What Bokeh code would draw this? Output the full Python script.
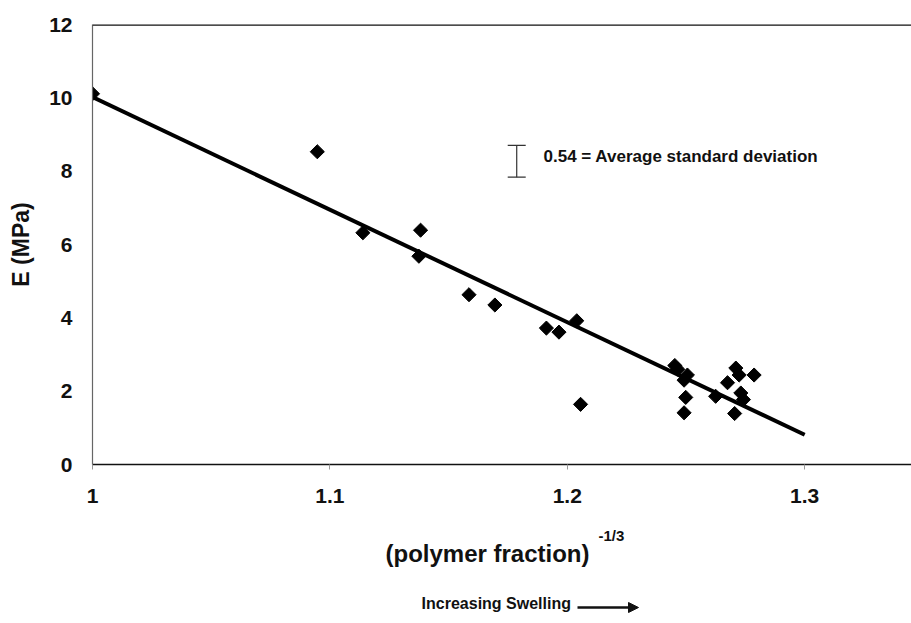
from bokeh.plotting import figure
from bokeh.layouts import column
from bokeh.models import (Range1d, FixedTicker, CustomJSTickFormatter, Span, Label,
                          Whisker, ColumnDataSource, TeeHead, Arrow, NormalHead)
from bokeh.core.properties import value
from bokeh.embed import file_html
from bokeh.resources import INLINE
import math

# ---- data ----
x_vals = [1.000, 1.0947, 1.1139, 1.1382, 1.1375, 1.1586, 1.1695, 1.1912, 1.1965,
          1.2040, 1.2056, 1.2453, 1.2465, 1.2506, 1.2492, 1.2499, 1.2492, 1.2625,
          1.2675, 1.2710, 1.2724, 1.2731, 1.2742, 1.2705, 1.2787]
E_vals = [10.11, 8.53, 6.32, 6.39, 5.68, 4.63, 4.35, 3.72, 3.61,
          3.92, 1.64, 2.70, 2.60, 2.44, 2.30, 1.83, 1.41, 1.86,
          2.23, 2.63, 2.44, 1.95, 1.77, 1.39, 2.44]

fit_x = [1.0, 1.30]
fit_intercept = 10.02   # E at x = 1
fit_slope = -30.7
fit_E = [fit_intercept + fit_slope * (x - 1.0) for x in fit_x]

x_ticks = [1.0, 1.1, 1.2, 1.3]
y_ticks = [0, 2, 4, 6, 8, 10, 12]

err_x = [1.1787]
err_center = [8.27]
err_half = [0.435]
err_text = "0.54 = Average standard deviation"

x_title = "(polymer fraction)"
x_title_sup = "-1/3"
note_text = "Increasing  Swelling"
y_title = "E (MPa)"

FONT = "Liberation Sans"
INK = "#111111"

W = 911
LEFT = 92
H_MAIN = 525
H_NOTE = 623 - H_MAIN

p = figure(width=W, height=H_MAIN, output_backend="svg", toolbar_location=None,
           x_range=Range1d(1.0, 1.345), y_range=Range1d(0, 12),
           min_border_left=LEFT, min_border_right=0, min_border_top=24,
           min_border_bottom=61)
p.outline_line_color = None
p.grid.visible = False

xa = p.xaxis[0]
xa.ticker = FixedTicker(ticks=x_ticks)
xa.formatter = CustomJSTickFormatter(code="return String(Math.round(tick*10)/10);")
xa.axis_line_color = INK
xa.axis_line_width = 1.5
xa.major_tick_out = 5
xa.major_tick_in = 0
xa.major_tick_line_color = "#999999"
xa.minor_tick_line_color = None
xa.major_label_standoff = 19
xa.major_label_text_font = FONT
xa.major_label_text_font_style = "bold"
xa.major_label_text_font_size = "21px"
xa.major_label_text_color = INK

ya = p.yaxis[0]
ya.ticker = FixedTicker(ticks=y_ticks)
ya.axis_line_color = "#666666"
ya.axis_line_width = 1.2
ya.major_tick_out = 0
ya.major_tick_in = 0
ya.minor_tick_line_color = None
ya.major_label_standoff = 20
ya.major_label_text_font = FONT
ya.major_label_text_font_style = "bold"
ya.major_label_text_font_size = "21px"
ya.major_label_text_color = INK
ya.axis_label = y_title
ya.axis_label_text_font = FONT
ya.axis_label_text_font_style = "bold"
ya.axis_label_text_font_size = "23px"
ya.axis_label_text_color = INK
ya.axis_label_standoff = 12

# top border of the plot area
p.add_layout(Span(location=12, dimension="width", line_color=INK, line_width=2.5))

# fit line and data points
p.line(fit_x, fit_E, line_color="black", line_width=4)
p.scatter(x_vals, E_vals, marker="square", angle=math.pi / 4, size=10,
          fill_color="black", line_color="black")

# average standard deviation bar
src = ColumnDataSource(dict(base=err_x,
                            lower=[c - h for c, h in zip(err_center, err_half)],
                            upper=[c + h for c, h in zip(err_center, err_half)]))
p.add_layout(Whisker(source=src, base="base", lower="lower", upper="upper",
                     dimension="height", line_color="#333333", line_width=1.2,
                     lower_head=TeeHead(size=18, line_color="#333333", line_width=1.2),
                     upper_head=TeeHead(size=18, line_color="#333333", line_width=1.2)))
p.add_layout(Label(x=1.190, y=8.41, text=err_text, text_font=FONT, text_font_style="bold",
                   text_font_size="17px", text_baseline="middle", text_align="left",
                   text_color=INK))

# lower strip: x-axis title and the "increasing swelling" note (page pixel x coordinates)
q = figure(width=W, height=H_NOTE, output_backend="svg", toolbar_location=None,
           x_range=Range1d(LEFT, W), y_range=Range1d(0, H_NOTE),
           x_axis_type=None, y_axis_type=None,
           min_border_left=LEFT, min_border_right=0, min_border_top=0, min_border_bottom=0)
q.outline_line_color = None
q.grid.visible = False

q.text(x=[487], y=[70], text=[x_title], text_font=value(FONT), text_font_style="bold",
       text_font_size="24px", text_align="center", text_baseline="middle", text_color=INK)
q.text(x=[598], y=[88], text=[x_title_sup], text_font=value(FONT), text_font_style="bold",
       text_font_size="15px", text_align="left", text_baseline="middle", text_color=INK)
q.text(x=[498], y=[20], text=[note_text], text_font=value(FONT), text_font_style="bold",
       text_font_size="16px", text_align="center", text_baseline="middle", text_color=INK)
q.add_layout(Arrow(x_start=577, y_start=16, x_end=638, y_end=16,
                   line_color=INK, line_width=2.5,
                   end=NormalHead(size=10, fill_color=INK, line_color=INK)))

layout = column(p, q, spacing=0)
open("out.html", "w").write(file_html(layout, INLINE))
